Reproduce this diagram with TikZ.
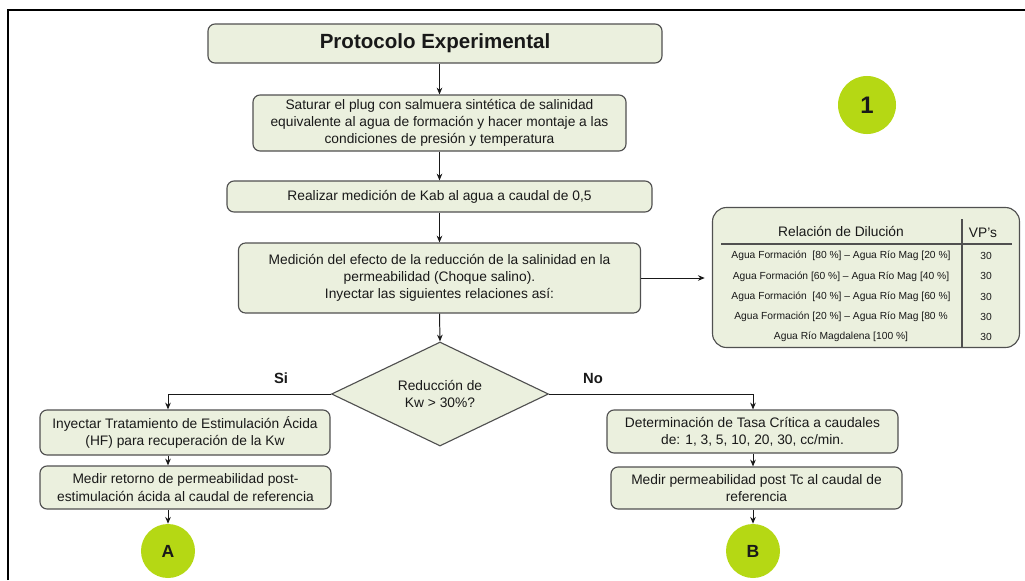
\documentclass[tikz,border=0pt]{standalone}
\usepackage{fontspec}
\setmainfont{Liberation Sans}
\usetikzlibrary{arrows.meta,shapes.geometric}
\definecolor{paper}{RGB}{235,240,222}
\definecolor{rim}{RGB}{80,80,80}
\definecolor{lime}{RGB}{181,216,20}
\definecolor{ink}{RGB}{25,25,25}
\tikzset{
  >={Stealth[length=1.7mm,width=1.4mm]},
  boxsize/.style 2 args={minimum width=#1*0.025cm,minimum height=#2*0.025cm},
  box/.style={draw=rim,fill=paper,rounded corners=5pt,line width=0.8pt,align=center,
    font=\fontsize{9.8}{12.2}\selectfont,text=ink,inner sep=2pt},
  decision/.style={diamond,draw=rim,fill=paper,line width=0.8pt,align=center,
    inner sep=0pt,aspect=2,font=\fontsize{9.8}{12.2}\selectfont,text=ink},
  marker/.style={circle,fill=lime,inner sep=0pt,minimum size=#1*0.05cm,
    font=\fontsize{12.5}{14}\selectfont\bfseries,text=ink},
  marker/.default=27,
  flow/.style={->,line width=0.7pt,draw=ink},
  cell/.style={font=\fontsize{7.3}{9}\selectfont,text=ink,inner sep=1pt},
  headcell/.style={font=\fontsize{9.8}{12}\selectfont,text=ink,inner sep=1pt},
  branch/.style={font=\fontsize{10.5}{12}\selectfont\bfseries,text=ink},
}

\begin{document}
\begin{tikzpicture}[x=0.025cm,y=-0.025cm]
  \useasboundingbox (0,0) rectangle (1025,580);
  % frame
  \draw[line width=2pt] (8,580) -- (8,10) -- (1025,10);

  % main column
  \node[box,boxsize={454}{39},font=\fontsize{14.6}{17}\selectfont\bfseries] (title) at (435,43.5) {Protocolo Experimental};
  \node[box,boxsize={373}{56}] (sat) at (439.5,123) {Saturar el plug con salmuera sintética de salinidad\\equivalente al agua de formación y hacer montaje a las\\condiciones de presión y temperatura};
  \node[box,boxsize={425}{31}] (kab) at (439.5,196.5) {Realizar medición de Kab al agua a caudal de 0,5};
  \node[box,boxsize={402}{70}] (med) at (439.5,278) {Medición del efecto de la reducción de la salinidad en la\\permeabilidad (Choque salino).\\Inyectar las siguientes relaciones así:};
  \node[decision,boxsize={217}{104}] (dec) at (440,394) {Reducción de\\Kw > 30\%?};

  \node[marker=29,font=\fontsize{17}{19}\selectfont\bfseries] (one) at (867,105) {1};

  % dilution table
  \node[box,boxsize={307}{140},rounded corners=10pt] (tbl) at (866,277.5) {};
  \node[headcell] (hdr) at (841,231) {Relación de Dilución};
  \node[headcell] (vph) at (983,233) {VP’s};
  \foreach \txt [count=\i] in {{Agua Formación~ [80 \%] – Agua Río Mag [20 \%]},
      {Agua Formación [60 \%] – Agua Río Mag [40 \%]},
      {Agua Formación~ [40 \%] – Agua Río Mag [60 \%]},
      {Agua Formación [20 \%] – Agua Río Mag [80 \%},
      {Agua Río Magdalena [100 \%]}}{
    \node[cell] (row\i) at (841,{256+20.3*(\i-1)}) {\txt};
    \node[cell] (vp\i) at (986,{256+20.3*(\i-1)}) {30};
  }
  \draw[rim,line width=0.8pt] (721,244) -- (1012,244);
  \draw[rim,line width=0.8pt] (962,219) -- (962,347);

  % branches
  \node[box,boxsize={290}{45}] (ls1) at (185,432.5) {Inyectar Tratamiento de Estimulación Ácida\\(HF) para recuperación de la Kw};
  \node[box,boxsize={291}{43}] (ls2) at (185.5,487.5) {Medir retorno de permeabilidad post-\\estimulación ácida al caudal de referencia};
  \node[box,boxsize={291}{43}] (rs1) at (752.5,431.5) {Determinación de Tasa Crítica a caudales\\de: 1, 3, 5, 10, 20, 30, cc/min.};
  \node[box,boxsize={291}{42}] (rs2) at (756.5,488) {Medir permeabilidad post Tc al caudal de\\referencia};
  \node[marker] (A) at (168,551) {A};
  \node[marker] (B) at (753,551) {B};
  \node[branch] (si) at (281,378) {Si};
  \node[branch] (no) at (593,378) {No};

  % connectors
  \draw[flow] (sat.north |- title.south) -- (sat.north);
  \draw[flow] (sat.south) -- (kab.north);
  \draw[flow] (kab.south) -- (med.north);
  \draw[flow] (med.south) -- (dec.north);
  \draw[flow,shorten >=1.8mm] (med.east) -- (med.east -| tbl.west);
  \draw[flow] (dec.west) -| (A |- ls1.north);
  \draw[flow] (dec.east) -| (B |- rs1.north);
  \draw[flow] (A |- ls1.south) -- (A |- ls2.north);
  \draw[flow] (A |- ls2.south) -- (A.north);
  \draw[flow] (B |- rs1.south) -- (B |- rs2.north);
  \draw[flow] (B |- rs2.south) -- (B.north);
\end{tikzpicture}
\end{document}
